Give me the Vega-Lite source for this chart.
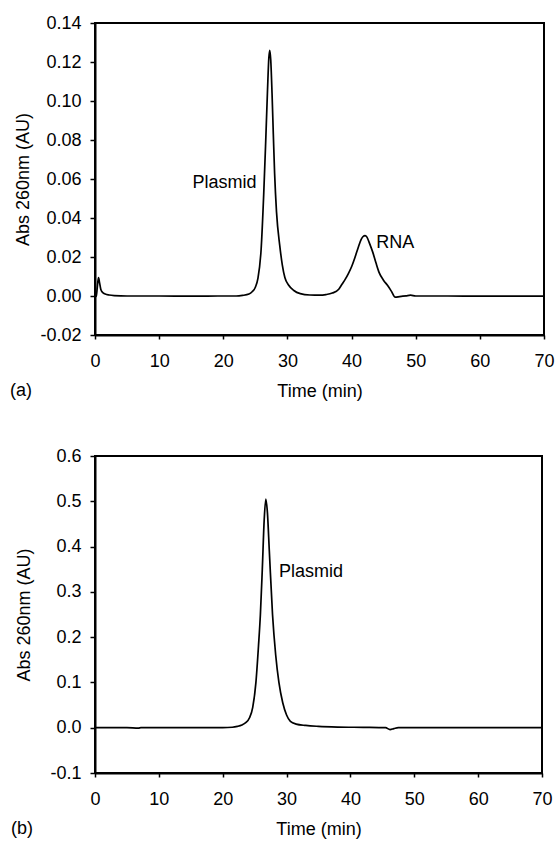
{
  "$schema": "https://vega.github.io/schema/vega-lite/v6.json",
  "background": "white",
  "padding": {"left": 8, "top": 13, "right": 0, "bottom": 0},
  "config": {
    "font": "Liberation Sans",
    "view": {"stroke": "black", "strokeWidth": 2},
    "axis": {
      "domainColor": "black", "domainWidth": 2, "tickColor": "black", "tickWidth": 1.5,
      "labelColor": "black", "titleColor": "black", "labelFontSize": 18, "titleFontSize": 18,
      "titleFontWeight": "normal", "grid": false, "labelFont": "Liberation Sans", "titleFont": "Liberation Sans",
      "labelOverlap": false
    },
    "axisX": {"tickSize": 4, "labelPadding": 13, "titlePadding": 12, "labelFlush": false},
    "axisY": {"tickSize": 5, "labelPadding": 9},
    "title": {"fontSize": 18, "fontWeight": "normal", "font": "Liberation Sans", "color": "black"}
  },
  "datasets": {
    "a": [
      {"t": 0, "v": -0.0005}, {"t": 0.2, "v": 0.0}, {"t": 0.4, "v": 0.006}, {"t": 0.55, "v": 0.0095},
      {"t": 0.7, "v": 0.007}, {"t": 0.9, "v": 0.0035}, {"t": 1.2, "v": 0.0018}, {"t": 1.6, "v": 0.001},
      {"t": 2.2, "v": 0.0005}, {"t": 3, "v": 0.0002}, {"t": 5, "v": 0.0}, {"t": 10, "v": 0.0},
      {"t": 15, "v": -0.0001}, {"t": 20, "v": 0.0}, {"t": 22, "v": 0.0}, {"t": 23, "v": 0.0003},
      {"t": 24, "v": 0.001}, {"t": 24.5, "v": 0.0022}, {"t": 25, "v": 0.0045}, {"t": 25.4, "v": 0.009},
      {"t": 25.9, "v": 0.024}, {"t": 26.3, "v": 0.052}, {"t": 26.6, "v": 0.078}, {"t": 26.9, "v": 0.106},
      {"t": 27.1, "v": 0.122}, {"t": 27.25, "v": 0.126}, {"t": 27.4, "v": 0.121}, {"t": 27.6, "v": 0.104},
      {"t": 27.8, "v": 0.083}, {"t": 28.0, "v": 0.063}, {"t": 28.3, "v": 0.043}, {"t": 28.8, "v": 0.026},
      {"t": 29.2, "v": 0.016}, {"t": 29.6, "v": 0.0095}, {"t": 30.2, "v": 0.0055}, {"t": 31, "v": 0.0028},
      {"t": 32, "v": 0.0012}, {"t": 33.5, "v": 0.0005}, {"t": 35, "v": 0.0004}, {"t": 36, "v": 0.0007},
      {"t": 37, "v": 0.0015}, {"t": 38, "v": 0.0035}, {"t": 38.5, "v": 0.006}, {"t": 39, "v": 0.0085},
      {"t": 39.5, "v": 0.0115}, {"t": 40, "v": 0.015}, {"t": 40.5, "v": 0.0195}, {"t": 41, "v": 0.0245},
      {"t": 41.5, "v": 0.029}, {"t": 41.8, "v": 0.0305}, {"t": 42.1, "v": 0.031}, {"t": 42.4, "v": 0.0302},
      {"t": 42.8, "v": 0.027}, {"t": 43.3, "v": 0.0225}, {"t": 43.8, "v": 0.017}, {"t": 44.3, "v": 0.012},
      {"t": 45, "v": 0.008}, {"t": 45.6, "v": 0.0055}, {"t": 46.2, "v": 0.0025}, {"t": 46.8, "v": -0.0006},
      {"t": 47.5, "v": -0.0003}, {"t": 48.5, "v": 0.0001}, {"t": 49.2, "v": 0.0004}, {"t": 50, "v": 0.0},
      {"t": 55, "v": 0.0}, {"t": 60, "v": -0.0001}, {"t": 65, "v": -0.0001}, {"t": 70, "v": -0.0001}
    ],
    "b": [
      {"t": 0, "v": 0}, {"t": 5, "v": 0}, {"t": 6.8, "v": -0.001}, {"t": 7.2, "v": 0}, {"t": 10, "v": 0},
      {"t": 15, "v": 0}, {"t": 20, "v": 0}, {"t": 21.5, "v": 0.001}, {"t": 22.3, "v": 0.003},
      {"t": 23, "v": 0.006}, {"t": 23.6, "v": 0.011}, {"t": 24.2, "v": 0.022}, {"t": 24.7, "v": 0.045},
      {"t": 25.2, "v": 0.1}, {"t": 25.6, "v": 0.18}, {"t": 25.9, "v": 0.25}, {"t": 26.2, "v": 0.35},
      {"t": 26.5, "v": 0.46}, {"t": 26.75, "v": 0.505}, {"t": 27.0, "v": 0.475}, {"t": 27.3, "v": 0.39},
      {"t": 27.8, "v": 0.25}, {"t": 28.3, "v": 0.16}, {"t": 28.8, "v": 0.1}, {"t": 29.4, "v": 0.055},
      {"t": 30.0, "v": 0.028}, {"t": 30.6, "v": 0.014}, {"t": 31.5, "v": 0.008}, {"t": 33, "v": 0.005},
      {"t": 35, "v": 0.003}, {"t": 38, "v": 0.0015}, {"t": 42, "v": 0.0008}, {"t": 45.5, "v": 0.0},
      {"t": 46.2, "v": -0.004}, {"t": 46.8, "v": -0.002}, {"t": 47.5, "v": 0}, {"t": 50, "v": 0},
      {"t": 60, "v": 0}, {"t": 70, "v": 0}
    ],
    "labels": [
      {"panel": "a", "t": 25.2, "v": 0.058, "label": "Plasmid"},
      {"panel": "a", "t": 43.85, "v": 0.0273, "label": "RNA"},
      {"panel": "b", "t": 28.8, "v": 0.343, "label": "Plasmid"}
    ]
  },
  "spacing": 45,
  "vconcat": [
    {
      "width": 449,
      "height": 312,
      "title": {"text": "(a)", "orient": "bottom", "anchor": "start", "frame": "bounds", "offset": -18, "dx": -5},
      "layer": [
        {
          "data": {"name": "a"},
          "mark": {"type": "line", "color": "black", "strokeWidth": 1.7, "interpolate": "monotone"},
          "encoding": {
            "x": {"field": "t", "type": "quantitative", "scale": {"domain": [0, 70], "nice": false, "zero": false},
                  "axis": {"values": [0, 10, 20, 30, 40, 50, 60, 70], "title": "Time (min)"}},
            "y": {"field": "v", "type": "quantitative", "scale": {"domain": [-0.02, 0.14], "nice": false, "zero": false},
                  "axis": {"values": [-0.02, 0, 0.02, 0.04, 0.06, 0.08, 0.1, 0.12, 0.14],
                           "labelOverlap": false, "tickCount": 9,
                           "labelExpr": "replace(format(datum.value, '.2f'), '\u2212', '-')",
                           "title": "Abs 260nm (AU)", "titlePadding": 7}}
          }
        },
        {
          "data": {"name": "labels"},
          "transform": [{"filter": "datum.panel === 'a' && datum.label === 'Plasmid'"}],
          "mark": {"type": "text", "fontSize": 18, "color": "black", "align": "right", "baseline": "middle"},
          "encoding": {
            "x": {"field": "t", "type": "quantitative"},
            "y": {"field": "v", "type": "quantitative"},
            "text": {"field": "label"}
          }
        },
        {
          "data": {"name": "labels"},
          "transform": [{"filter": "datum.panel === 'a' && datum.label === 'RNA'"}],
          "mark": {"type": "text", "fontSize": 18, "color": "black", "align": "left", "baseline": "middle"},
          "encoding": {
            "x": {"field": "t", "type": "quantitative"},
            "y": {"field": "v", "type": "quantitative"},
            "text": {"field": "label"}
          }
        }
      ]
    },
    {
      "width": 447,
      "height": 317,
      "title": {"text": "(b)", "orient": "bottom", "anchor": "start", "frame": "bounds", "offset": -18, "dx": -5},
      "layer": [
        {
          "data": {"name": "b"},
          "mark": {"type": "line", "color": "black", "strokeWidth": 1.7, "interpolate": "monotone"},
          "encoding": {
            "x": {"field": "t", "type": "quantitative", "scale": {"domain": [0, 70], "nice": false, "zero": false},
                  "axis": {"values": [0, 10, 20, 30, 40, 50, 60, 70], "title": "Time (min)"}},
            "y": {"field": "v", "type": "quantitative", "scale": {"domain": [-0.1, 0.6], "nice": false, "zero": false},
                  "axis": {"values": [-0.1, 0, 0.1, 0.2, 0.3, 0.4, 0.5, 0.6],
                           "labelOverlap": false,
                           "labelExpr": "replace(format(datum.value, '.1f'), '\u2212', '-')",
                           "title": "Abs 260nm (AU)", "titlePadding": 16}}
          }
        },
        {
          "data": {"name": "labels"},
          "transform": [{"filter": "datum.panel === 'b'"}],
          "mark": {"type": "text", "fontSize": 18, "color": "black", "align": "left", "baseline": "middle"},
          "encoding": {
            "x": {"field": "t", "type": "quantitative"},
            "y": {"field": "v", "type": "quantitative"},
            "text": {"field": "label"}
          }
        }
      ]
    }
  ]
}
